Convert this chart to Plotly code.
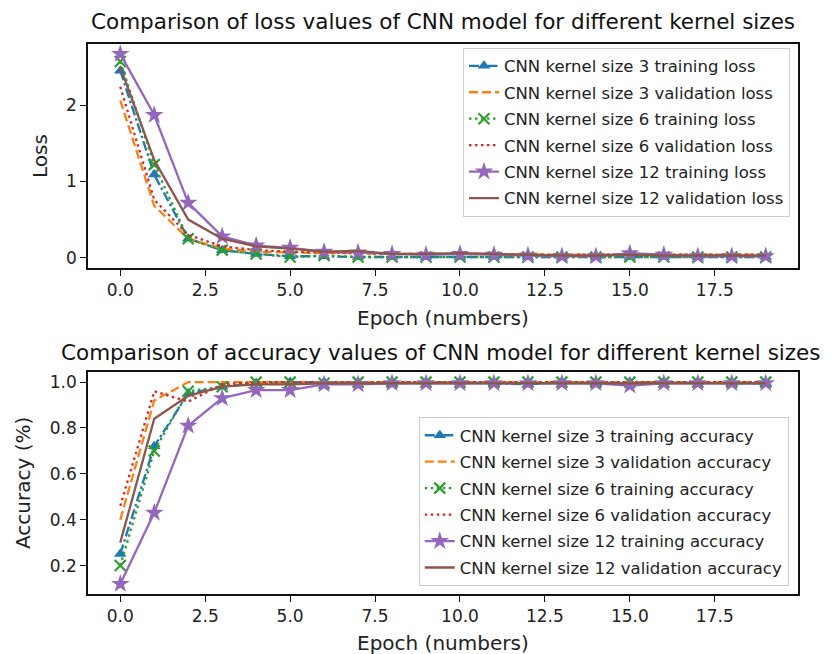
import plotly.graph_objects as go

# Epochs 0..19
epochs = list(range(20))

# Loss curves
k3_train_loss = [2.45, 1.09, 0.25, 0.10, 0.05, 0.02, 0.02, 0.01, 0.01, 0.01,
                 0.01, 0.01, 0.01, 0.01, 0.01, 0.01, 0.01, 0.01, 0.01, 0.01]
k3_val_loss = [2.06, 0.68, 0.25, 0.12, 0.08, 0.07, 0.06, 0.06, 0.05, 0.05,
               0.05, 0.05, 0.04, 0.04, 0.04, 0.04, 0.04, 0.04, 0.04, 0.04]
k6_train_loss = [2.57, 1.22, 0.25, 0.10, 0.05, 0.01, 0.03, 0.01, 0.01, 0.01,
                 0.01, 0.01, 0.01, 0.01, 0.01, 0.01, 0.01, 0.01, 0.01, 0.01]
k6_val_loss = [2.24, 0.76, 0.30, 0.15, 0.10, 0.08, 0.07, 0.06, 0.05, 0.05,
               0.05, 0.05, 0.04, 0.04, 0.04, 0.04, 0.04, 0.04, 0.04, 0.04]
k12_train_loss = [2.67, 1.87, 0.72, 0.28, 0.16, 0.13, 0.08, 0.07, 0.05, 0.04,
                  0.05, 0.04, 0.03, 0.02, 0.02, 0.06, 0.04, 0.02, 0.02, 0.02]
k12_val_loss = [2.50, 1.28, 0.50, 0.25, 0.15, 0.12, 0.08, 0.09, 0.05, 0.05,
                0.06, 0.05, 0.04, 0.03, 0.03, 0.04, 0.03, 0.03, 0.03, 0.03]

# Accuracy curves
k3_train_acc = [0.25, 0.72, 0.95, 0.98, 0.995, 1.0, 1.0, 1.0, 0.995, 1.0,
                1.0, 0.995, 0.99, 1.0, 0.995, 1.0, 1.0, 1.0, 0.995, 0.995]
k3_val_acc = [0.40, 0.92, 1.0, 1.0, 1.0, 1.0, 1.0, 1.0, 1.0, 1.0,
              1.0, 1.0, 1.0, 1.0, 1.0, 1.0, 1.0, 1.0, 1.0, 1.0]
k6_train_acc = [0.20, 0.70, 0.96, 0.98, 1.0, 1.0, 0.995, 1.0, 1.0, 1.0,
                1.0, 1.0, 1.0, 1.0, 1.0, 1.0, 1.0, 1.0, 1.0, 1.0]
k6_val_acc = [0.46, 0.96, 0.915, 0.99, 1.0, 1.0, 1.0, 1.0, 1.0, 1.0,
              1.0, 1.0, 1.0, 1.0, 1.0, 1.0, 1.0, 1.0, 1.0, 1.0]
k12_train_acc = [0.12, 0.43, 0.81, 0.93, 0.965, 0.965, 0.99, 0.99, 0.995, 0.995,
                 0.995, 0.995, 0.995, 0.995, 0.995, 0.985, 0.995, 0.995, 0.995, 0.995]
k12_val_acc = [0.30, 0.84, 0.94, 0.98, 0.99, 0.99, 0.995, 0.995, 0.995, 0.995,
               0.995, 0.995, 0.995, 0.995, 0.995, 0.995, 0.995, 0.995, 0.995, 0.995]

x_ticks = [0.0, 2.5, 5.0, 7.5, 10.0, 12.5, 15.0, 17.5]
loss_ticks = [0, 1, 2]
acc_ticks = [0.2, 0.4, 0.6, 0.8, 1.0]

FONT = "DejaVu Sans"
BLUE, ORANGE, GREEN, RED, PURPLE, BROWN = (
    "#1f77b4", "#ff7f0e", "#2ca02c", "#d62728", "#9467bd", "#8c564b")

# (color, dash, marker symbol, marker size)
styles = [
    (BLUE, "10px,3px,2.5px,3px", "triangle-up", 11),
    (ORANGE, "9px,4px", None, 0),
    (GREEN, "2.5px,3.5px", "x-thin", 11),
    (RED, "2.5px,3.5px", None, 0),
    (PURPLE, "solid", "star", 14),
    (BROWN, "solid", None, 0),
]

loss_series = [
    ("CNN kernel size 3 training loss", k3_train_loss),
    ("CNN kernel size 3 validation loss", k3_val_loss),
    ("CNN kernel size 6 training loss", k6_train_loss),
    ("CNN kernel size 6 validation loss", k6_val_loss),
    ("CNN kernel size 12 training loss", k12_train_loss),
    ("CNN kernel size 12 validation loss", k12_val_loss),
]
acc_series = [
    ("CNN kernel size 3 training accuracy", k3_train_acc),
    ("CNN kernel size 3 validation accuracy", k3_val_acc),
    ("CNN kernel size 6 training accuracy", k6_train_acc),
    ("CNN kernel size 6 validation accuracy", k6_val_acc),
    ("CNN kernel size 12 training accuracy", k12_train_acc),
    ("CNN kernel size 12 validation accuracy", k12_val_acc),
]


def add_series(fig, series, xa, ya, legend_name, prefix):
    for i, ((name, vals), (color, dash, sym, size)) in enumerate(zip(series, styles)):
        marker = dict(size=size, color=color)
        if sym:
            marker["symbol"] = sym
            if sym == "x-thin":
                marker["line"] = dict(width=2.2, color=color)
            else:
                marker["line"] = dict(width=0)
        fig.add_trace(go.Scatter(
            x=epochs, y=vals, name=name,
            mode="lines+markers" if sym else "lines",
            line=dict(color=color, width=2.3, dash=dash),
            marker=marker,
            xaxis=xa, yaxis=ya, legend=legend_name,
            legendgroup=f"{prefix}{i}",
        ))


fig = go.Figure()
add_series(fig, loss_series, "x", "y", "legend", "loss")
add_series(fig, acc_series, "x2", "y2", "legend2", "acc")

axis_common = dict(
    showline=True, mirror=True, linecolor="#111", linewidth=1.6,
    ticks="outside", ticklen=6, tickwidth=1.4, tickcolor="#111",
    showgrid=False, zeroline=False,
    tickfont=dict(family=FONT, size=17, color="#222"),
)

legend_common = dict(
    bgcolor="rgba(255,255,255,0.8)", bordercolor="#cccccc", borderwidth=1,
    font=dict(family=FONT, size=16.5, color="#222"),
    xanchor="right", traceorder="grouped", tracegroupgap=2,
    itemwidth=30,
)

fig.update_layout(
    width=832, height=654,
    margin=dict(l=88, r=34, t=44, b=60),
    plot_bgcolor="white", paper_bgcolor="white",
    showlegend=True,
    xaxis=dict(domain=[0, 1], anchor="y", range=[-0.95, 19.95],
               tickvals=x_ticks, tickformat=".1f", **axis_common),
    yaxis=dict(domain=[0.5927, 1.0], anchor="x", range=[-0.134, 2.80],
               tickvals=loss_ticks, **axis_common),
    xaxis2=dict(domain=[0, 1], anchor="y2", range=[-0.95, 19.95],
                tickvals=x_ticks, tickformat=".1f", **axis_common),
    yaxis2=dict(domain=[0.0, 0.4036], anchor="x2", range=[0.076, 1.044],
                tickvals=acc_ticks, tickformat=".1f", **axis_common),
    legend=dict(x=0.9887, y=0.9935, yanchor="top", **legend_common),
    legend2=dict(x=0.987, y=0.0145, yanchor="bottom", **legend_common),
)

title_font = dict(family=FONT, size=21.5, color="#111")
label_font = dict(family=FONT, size=20, color="#222")
annotations = [
    dict(text="Comparison of loss values of CNN model for different kernel sizes",
         x=443, y=654 - 22, font=title_font),
    dict(text="Comparison of accuracy values of CNN model for different kernel sizes",
         x=441, y=654 - 352, font=title_font),
    dict(text="Epoch (numbers)", x=443, y=654 - 318, font=label_font),
    dict(text="Epoch (numbers)", x=443, y=654 - 643, font=label_font),
    dict(text="Loss", x=40, y=654 - 156, font=label_font, textangle=-90),
    dict(text="Accuracy (%)", x=23, y=654 - 483, font=label_font, textangle=-90),
]
for a in annotations:
    # positions given in pixels from the figure's bottom-left corner
    fig.add_annotation(
        text=a["text"], showarrow=False,
        xref="paper", yref="paper",
        x=(a["x"] - 88) / 710, y=(a["y"] - 60) / 550,
        xanchor="center", yanchor="middle",
        font=a["font"], textangle=a.get("textangle", 0),
    )

fig.write_html("out.html")
